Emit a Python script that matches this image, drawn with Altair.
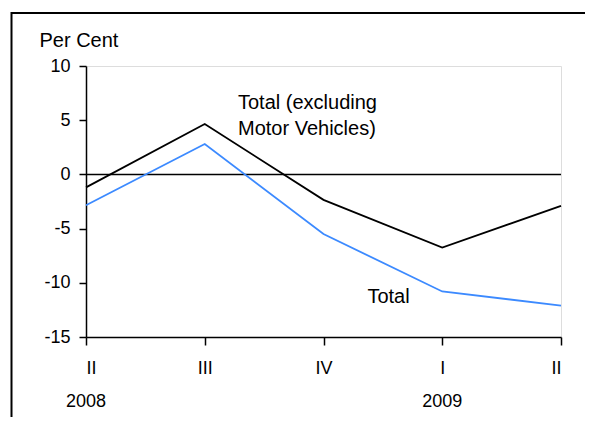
import json
import altair as alt
import pandas as pd

# ---- data ----
x_index = [0, 1, 2, 3, 4]
quarters = ["II", "III", "IV", "I", "II"]
total_excl_motor = [-1.2, 4.65, -2.35, -6.75, -2.9]
total = [-2.85, 2.8, -5.5, -10.8, -12.1]

year_labels = ["2008", "2009"]
year_pos = [0, 3]

ann_text = ["Total (excluding", "Motor Vehicles)", "Total"]
ann_x = [1.28, 1.28, 2.37]
ann_y = [6.0, 3.6, -11.9]

FONT = "Liberation Sans"
BLUE = "#3C8AFF"

df = pd.DataFrame({
    "x": x_index * 2,
    "v": total_excl_motor + total,
    "s": ["excl"] * 5 + ["total"] * 5,
})
years = pd.DataFrame({"x": year_pos, "t": year_labels})
ann = pd.DataFrame({"x": ann_x, "y": ann_y, "t": ann_text})

label_expr = json.dumps(quarters) + "[datum.value]"

xs = alt.Scale(domain=[0, 4], nice=False, zero=False)
ys = alt.Scale(domain=[-15, 10], nice=False)

lines = alt.Chart(df).mark_line(strokeWidth=1.8).encode(
    x=alt.X("x:Q", scale=xs, axis=alt.Axis(
        values=x_index, labelExpr=label_expr, title=None, grid=False,
        domainColor="black", domainWidth=1.5, tickColor="black", tickWidth=1.5,
        tickSize=8, labelPadding=14, labelFont=FONT, labelFontSize=18,
        labelColor="black", labelBaseline="top")),
    y=alt.Y("v:Q", scale=ys, axis=alt.Axis(
        values=[-15, -10, -5, 0, 5, 10], grid=False, title="Per Cent",
        labelExpr="'' + datum.value",
        titleAngle=0, titleAlign="left", titleBaseline="alphabetic",
        titleX=-47, titleY=-20, titleFont=FONT, titleFontSize=20,
        titleFontWeight="normal", titleColor="black",
        domainColor="black", domainWidth=1.5, tickColor="black", tickWidth=1.5,
        tickSize=7, labelPadding=9, labelFont=FONT, labelFontSize=18,
        labelColor="black")),
    color=alt.Color("s:N", scale=alt.Scale(domain=["excl", "total"],
                                           range=["black", BLUE]), legend=None),
    detail="s:N",
)

zero = alt.Chart(pd.DataFrame({"z": [0]})).mark_rule(
    color="black", strokeWidth=1.5).encode(y=alt.Y("z:Q", scale=ys))

year_text = alt.Chart(years).mark_text(
    font=FONT, fontSize=18, color="black", align="center",
    baseline="alphabetic").encode(
    x=alt.X("x:Q", scale=xs), y=alt.value(341), text="t:N")

ann_marks = alt.Chart(ann).mark_text(
    font=FONT, fontSize=20, color="black", align="left",
    baseline="alphabetic").encode(
    x=alt.X("x:Q", scale=xs), y=alt.Y("y:Q", scale=ys), text="t:N")

# decorative outer frame (right and bottom edges fall outside the canvas)
frame = alt.Chart(pd.DataFrame({"a": [0]})).mark_rect(
    fill=None, filled=False, stroke="black", strokeWidth=2).encode(
    x=alt.value(-74.5), x2=alt.value(540), y=alt.value(-53), y2=alt.value(420))

chart = alt.layer(
    frame, zero, lines, year_text, ann_marks
).properties(
    width=475, height=271,
    autosize=alt.AutoSizeParams(type="none"),
    padding={"left": 78, "top": 58, "right": 24, "bottom": 80},
).configure_view(stroke=None).configure(background="white")

chart.save("out.html", embed_options={"renderer": "svg", "actions": False})
